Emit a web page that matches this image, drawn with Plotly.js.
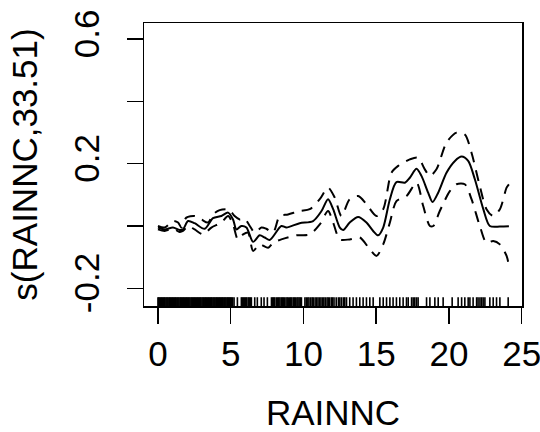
<!DOCTYPE html>
<html>
<head>
<meta charset="utf-8">
<script src="https://cdn.plot.ly/plotly-3.0.1.min.js"></script>
<style>html,body{margin:0;padding:0;background:#fff;}#chart{width:540px;height:432px;}</style>
</head>
<body>
<div id="chart"></div>
<script>
// Smooth term s(RAINNC, 33.51): fitted curve
const fitX = [0.00,0.46,1.03,1.49,1.72,2.07,2.52,3.21,3.78,4.36,4.82,5.16,5.39,5.73,6.08,6.54,6.99,7.34,7.68,8.48,8.83,9.74,10.66,11.24,11.69,12.04,12.50,12.73,13.18,13.76,14.33,14.79,15.13,15.48,15.94,16.39,16.97,17.31,17.77,18.11,18.57,18.87,19.26,19.83,20.41,20.87,21.32,21.78,22.36,22.81,23.50,24.12];
const fitY = [-0.005,-0.011,-0.005,-0.013,-0.011,0.016,0.009,-0.009,0.025,0.032,0.043,0.021,-0.011,0.000,-0.005,-0.051,-0.030,-0.037,-0.045,0.000,-0.005,0.009,0.016,0.048,0.086,0.054,-0.005,-0.013,0.011,0.029,0.011,-0.016,-0.030,-0.005,0.086,0.141,0.139,0.155,0.184,0.161,0.107,0.077,0.107,0.171,0.209,0.223,0.209,0.150,0.054,0.000,-0.002,-0.001];

// Upper confidence band
const upX = [0.00,0.46,1.03,1.38,1.61,1.95,2.52,2.98,3.44,3.78,4.24,4.70,4.93,5.27,5.62,5.96,6.31,6.65,7.11,7.45,7.91,8.37,8.94,9.74,10.43,11.12,11.69,12.15,12.61,13.18,13.76,14.33,15.02,15.48,16.05,16.51,17.31,17.88,18.34,18.69,19.14,19.83,20.52,21.09,21.55,22.12,22.58,23.04,23.50,23.96,24.12];
const upY = [0.000,-0.005,0.016,0.011,-0.005,0.027,0.032,0.021,0.011,0.037,0.051,0.054,0.051,0.032,0.021,0.024,0.000,-0.021,-0.005,-0.009,-0.021,0.032,0.037,0.048,0.054,0.086,0.123,0.091,0.032,0.086,0.096,0.070,0.032,0.054,0.171,0.193,0.214,0.219,0.182,0.161,0.182,0.268,0.300,0.294,0.235,0.128,0.054,0.032,0.054,0.123,0.134];

// Lower confidence band
const loX = [0.00,0.46,1.03,1.49,1.72,2.07,2.52,3.10,3.67,4.36,4.82,5.16,5.50,5.85,6.19,6.54,6.99,7.57,7.91,8.48,9.52,10.43,11.12,11.69,12.04,12.50,13.18,13.87,14.56,15.02,15.48,15.94,16.39,17.08,17.77,18.23,18.69,18.92,19.37,20.06,20.52,21.09,21.55,22.12,22.58,23.04,23.50,23.96,24.12];
const loY = [-0.011,-0.016,-0.009,-0.019,-0.016,0.000,-0.011,-0.027,-0.005,0.011,0.032,0.005,-0.043,-0.027,-0.021,-0.080,-0.059,-0.070,-0.054,-0.043,-0.030,-0.027,0.005,0.048,0.011,-0.043,-0.043,-0.037,-0.075,-0.096,-0.059,0.011,0.080,0.096,0.139,0.064,0.000,0.000,0.048,0.112,0.134,0.134,0.086,0.000,-0.054,-0.048,-0.059,-0.096,-0.128];

// Rug: observed RAINNC values
const rugX = [0,0.05,0.11,0.18,0.24,0.30,0.37,0.43,0.49,0.56,0.62,0.68,0.75,0.81,0.87,0.94,1.00,1.06,1.13,1.19,1.25,1.32,1.38,1.44,1.51,1.57,1.63,1.70,1.76,1.82,1.89,1.95,2.01,2.08,2.14,2.20,2.27,2.33,2.39,2.46,2.52,2.58,2.65,2.71,2.77,2.84,2.90,2.96,3.03,3.09,3.15,3.22,3.28,3.34,3.41,3.47,3.53,3.60,3.66,3.72,3.79,3.85,3.91,3.98,4.04,4.10,4.17,4.23,4.29,4.36,4.42,4.48,4.55,4.61,4.67,4.74,4.80,4.86,4.93,4.99,5.06,5.13,
  5.23,5.46,5.73,5.80,5.88,5.95,6.03,6.10,6.20,6.27,6.35,6.42,6.65,6.83,7.10,7.29,7.52,7.80,7.88,7.95,8.03,8.14,8.22,8.30,8.38,8.47,8.55,8.62,8.70,8.80,8.88,8.95,9.05,9.12,9.20,9.30,9.38,9.45,9.55,9.62,9.70,9.78,9.86,10.10,10.20,10.30,10.38,10.50,10.60,10.68,10.80,10.90,11.00,11.10,11.20,11.30,11.40,11.50,11.62,11.70,11.80,11.92,12.00,12.10,12.25,12.40,12.50,12.62,12.75,12.84,12.96,13.18,13.41,13.64,13.87,14.10,
  14.33,14.56,14.79,15.25,15.48,15.71,15.94,16.16,16.39,16.62,16.85,17.08,17.20,17.43,17.54,17.65,17.77,17.88,18.46,18.69,19.03,19.26,19.60,20.22,20.63,20.87,21.09,21.32,21.44,21.66,21.90,22.00,22.13,22.24,22.35,22.47,22.81,23.04,23.27,23.50,24.07];

const xTicks = [0,5,10,15,20,25];
const yTicks = [-0.2,0,0.2,0.4,0.6];
const yTickText = ['-0.2','','0.2','','0.6'];

const X_RANGE = [-0.96, 25.02];
const Y_RANGE = [-0.257, 0.652];
const RUG_FRAC = 0.031; // rug tick length as fraction of plot height

const FONT = 'Liberation Sans, Arial, Helvetica, sans-serif';
const FS = 35;

// rug drawn as one line trace with gaps, anchored at the bottom of the y range
const rugBase = Y_RANGE[0];
const rugTop = Y_RANGE[0] + RUG_FRAC * (Y_RANGE[1] - Y_RANGE[0]);
const rugLX = [], rugLY = [];
rugX.forEach(v => { rugLX.push(v, v, null); rugLY.push(rugBase, rugTop, null); });

const traces = [
  {x: rugLX, y: rugLY, type:'scatter', mode:'lines', line:{color:'#000', width:1.6, simplify:false}, connectgaps:false, hoverinfo:'skip', cliponaxis:false},
  {x: fitX, y: fitY, type:'scatter', mode:'lines', line:{color:'#000', width:2, shape:'spline', smoothing:0.8}, hoverinfo:'skip'},
  {x: upX, y: upY, type:'scatter', mode:'lines', line:{color:'#000', width:2, dash:'11px,8px', shape:'spline', smoothing:0.8}, hoverinfo:'skip'},
  {x: loX, y: loY, type:'scatter', mode:'lines', line:{color:'#000', width:2, dash:'11px,8px', shape:'spline', smoothing:0.8}, hoverinfo:'skip'}
];

const layout = {
  width:540, height:432,
  margin:{l:144, r:18, t:23, b:126, pad:0},
  paper_bgcolor:'#fff', plot_bgcolor:'#fff',
  showlegend:false,
  font:{family:FONT, color:'#000', size:FS},
  xaxis:{
    range:X_RANGE, tickvals:xTicks, ticktext:xTicks.map(String),
    ticks:'outside', ticklen:16, tickwidth:1.5, tickcolor:'#000',
    showline:true, linecolor:'#000', linewidth:1.5, mirror:true,
    showgrid:false, zeroline:false, ticklabeloverflow:'allow',
    tickfont:{size:FS, family:FONT},
    title:{text:'RAINNC', font:{size:FS, family:FONT}, standoff:37},
    automargin:false
  },
  yaxis:{
    range:Y_RANGE, tickvals:yTicks, ticktext:yTickText,
    ticks:'outside', ticklen:16, tickwidth:1.5, tickcolor:'#000',
    showline:true, linecolor:'#000', linewidth:1.5, mirror:true,
    showgrid:false, zeroline:false, tickangle:-90, ticklabelstandoff:14,
    ticklabeloverflow:'allow',
    tickfont:{size:FS, family:FONT},
    title:{text:'s(RAINNC,33.51)', font:{size:FS, family:FONT}, standoff:18},
    automargin:false
  }
};

Plotly.newPlot('chart', traces, layout, {displayModeBar:false, staticPlot:true});
</script>
</body>
</html>
